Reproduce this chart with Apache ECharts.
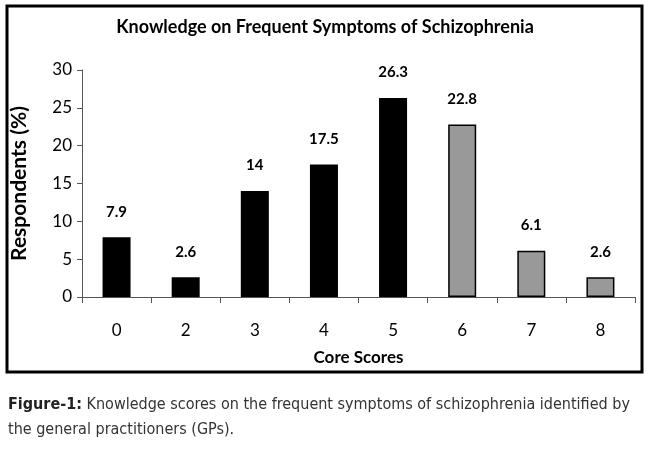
<!DOCTYPE html>
<html>
<head>
<meta charset="utf-8">
<script src="https://cdn.jsdelivr.net/npm/echarts@6/dist/echarts.min.js"></script>
<style>
  html, body { margin: 0; padding: 0; background: #fff; }
  #main { width: 650px; height: 450px; }
</style>
</head>
<body>
<div id="main"></div>
<script>
// core scores on x axis
var categories = ['0', '2', '3', '4', '5', '6', '7', '8'];
// respondents (%)
var values = [7.9, 2.6, 14, 17.5, 26.3, 22.8, 6.1, 2.6];
// first five bars black, the rest gray
var barColors = ['#000', '#000', '#000', '#000', '#000', '#999', '#999', '#999'];
var yTicks = [0, 5, 10, 15, 20, 25, 30];

var myChart = echarts.init(document.getElementById('main'));

var barData = values.map(function (v, i) {
    return { value: v, itemStyle: { color: barColors[i] } };
});

var option = {
    animation: false,
    textStyle: { fontFamily: 'Lato, "Open Sans", sans-serif' },
    title: {
        text: 'Knowledge on Frequent Symptoms of Schizophrenia',
        left: 'center',
        top: 13,
        textStyle: { fontSize: 18, fontWeight: 'bold', color: '#000', fontFamily: 'Lato, sans-serif' }
    },
    grid: { left: 82, right: 15, top: 70, bottom: 153, containLabel: false },
    xAxis: {
        type: 'category',
        data: categories,
        name: 'Core Scores',
        nameLocation: 'middle',
        nameGap: 52,
        nameTextStyle: { fontSize: 17, fontWeight: 'bold', color: '#000' },
        axisLine: { lineStyle: { color: '#555', width: 1 } },
        axisTick: { show: true, length: 6, lineStyle: { color: '#555' } },
        axisLabel: { fontSize: 17, color: '#000', margin: 25 }
    },
    yAxis: {
        type: 'value',
        min: yTicks[0],
        max: yTicks[yTicks.length - 1],
        interval: 5,
        name: 'Respondents (%)',
        nameLocation: 'middle',
        nameGap: 52,
        nameTextStyle: { fontSize: 21, fontWeight: 'bold', color: '#000' },
        axisLine: { show: true, lineStyle: { color: '#555', width: 1 } },
        axisTick: { show: true, length: 5, lineStyle: { color: '#555' } },
        axisLabel: { fontSize: 17, color: '#000', margin: 10 },
        splitLine: { show: false }
    },
    series: [{
        type: 'bar',
        data: barData,
        barWidth: 28,
        itemStyle: { borderColor: '#000', borderWidth: 1.5 },
        label: {
            show: true,
            position: 'top',
            distance: 18,
            fontSize: 15,
            fontWeight: 'bold',
            color: '#000'
        }
    }],
    graphic: [
        {
            type: 'rect',
            shape: { x: 7, y: 6, width: 635, height: 366 },
            style: { fill: 'none', stroke: '#000', lineWidth: 3 },
            silent: true
        },
        {
            type: 'text',
            left: 8,
            top: 392,
            style: {
                text: '{b|Figure-1:} Knowledge scores on the frequent symptoms of schizophrenia identified by\nthe general practitioners (GPs).',
                fontSize: 16,
                lineHeight: 25,
                fill: '#333',
                fontFamily: '"Liberation Sans Narrow", "DejaVu Sans Condensed", sans-serif',
                rich: {
                    b: { fontWeight: 'bold', fontSize: 16, fill: '#222',
                         fontFamily: '"Liberation Sans Narrow", "DejaVu Sans Condensed", sans-serif' }
                }
            }
        }
    ]
};

myChart.setOption(option);
</script>
</body>
</html>
